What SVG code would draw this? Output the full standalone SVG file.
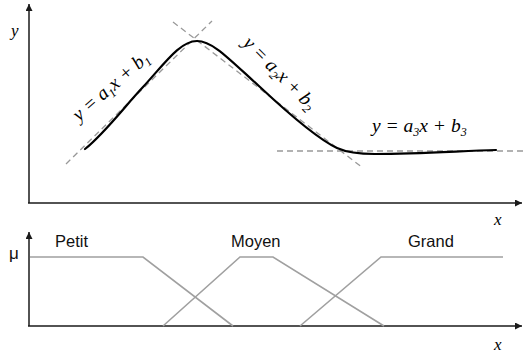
<svg xmlns="http://www.w3.org/2000/svg" width="525" height="358" viewBox="0 0 525 358">
<style>
.axis{stroke:#1a1a1a;stroke-width:1.5;fill:none}
.dash{stroke:#999;stroke-width:1.3;stroke-dasharray:6 4;fill:none}
.mf{stroke:#a0a0a0;stroke-width:1.6;fill:none}
.curve{stroke:#000;stroke-width:2.2;fill:none;stroke-linecap:round}
.eq{font-family:"Liberation Serif",serif;font-style:italic;font-size:19.5px;fill:#000}
.sub{font-size:12px}
.lab{font-family:"Liberation Sans",Arial,sans-serif;font-size:16.5px;fill:#111}
.var{font-family:"Liberation Serif",serif;font-style:italic;font-size:17px;fill:#000}
</style>
<defs>
<marker id="arr" viewBox="0 0 10 10" refX="10" refY="5" markerWidth="7" markerHeight="7" markerUnits="userSpaceOnUse" orient="auto">
<path d="M0,0 L10,5 L0,10 z" fill="#1a1a1a"/>
</marker>
</defs>
<g id="top-plot">
<g id="connectors">
<line class="axis" x1="29" y1="203" x2="29" y2="4" marker-end="url(#arr)"/>
<line class="axis" x1="28" y1="203" x2="522" y2="203" marker-end="url(#arr)"/>
<line class="axis" x1="29" y1="326" x2="29" y2="232" marker-end="url(#arr)"/>
<line class="axis" x1="28" y1="326" x2="522" y2="326" marker-end="url(#arr)"/>
</g>
<g id="tangents">
<line class="dash" x1="66" y1="164" x2="212" y2="21"/>
<line class="dash" x1="173" y1="22" x2="363" y2="168"/>
<line class="dash" x1="277" y1="151" x2="525" y2="151"/>
</g>
<path id="curve" class="curve" d="M85,149 C105,133 125,106 143,87 C165,63 180,41 197,41 C213,41 230,60 260,87 C290,115 320,140 337,148 C348,153 360,154 375,154 C420,154 460,151 496,150"/>
<text class="var" x="11" y="36">y</text>
<text class="var" x="494" y="225">x</text>
<text class="eq" transform="translate(79,122) rotate(-41)">y = a<tspan class="sub" dy="4">1</tspan><tspan dy="-4">x + b</tspan><tspan class="sub" dy="4">1</tspan></text>
<text class="eq" transform="translate(242,44) rotate(45)">y = a<tspan class="sub" dy="4">2</tspan><tspan dy="-4">x + b</tspan><tspan class="sub" dy="4">2</tspan></text>
<text class="eq" x="372" y="132">y = a<tspan class="sub" dy="4">3</tspan><tspan dy="-4">x + b</tspan><tspan class="sub" dy="4">3</tspan></text>
</g>
<g id="bottom-plot">
<g id="petit">
<polyline class="mf" points="30,257 143,257 233,326"/>
<text class="lab" x="55" y="247">Petit</text>
</g>
<g id="moyen">
<polyline class="mf" points="163,326 240,257 273,257 384,326"/>
<text class="lab" x="231" y="247">Moyen</text>
</g>
<g id="grand">
<polyline class="mf" points="300,326 381,257 503,257"/>
<text class="lab" x="408" y="247">Grand</text>
</g>
<text class="lab" x="9" y="259" style="font-size:17px">μ</text>
<text class="var" x="494" y="350">x</text>
</g>
</svg>
